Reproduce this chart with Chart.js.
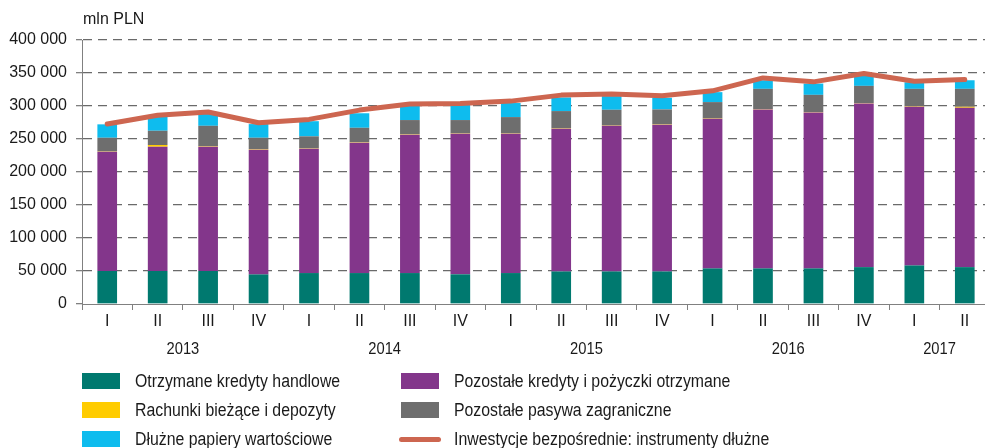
<!DOCTYPE html>
<html>
<head>
<meta charset="utf-8">
<script src="https://cdn.jsdelivr.net/npm/chart.js@4"></script>
<style>
  body { margin: 0; overflow: hidden; background: #fff; }
  #wrap { position: relative; width: 990px; height: 448px; }
  .unit { position: absolute; left: 83px; top: 10px; font: 16px "Liberation Sans", Arial, sans-serif; color: #1a1a1a; }
  .leg { position: absolute; font: 18px "Liberation Sans", Arial, sans-serif; color: #1a1a1a; white-space: nowrap; line-height: 20px; transform: scaleX(0.88); transform-origin: 0 50%; }
  .box { position: absolute; width: 38px; height: 16px; }
  .ln { position: absolute; width: 42px; height: 5px; border-radius: 3px; }
</style>
</head>
<body>
<div id="wrap">
  <canvas id="wykres" width="990" height="448"></canvas>
  <div class="unit">mln PLN</div>
  <div id="legenda"></div>
</div>
<script>
// dane (mln PLN)
const kwartaly = ['I','II','III','IV','I','II','III','IV','I','II','III','IV','I','II','III','IV','I','II'];
const lata = ['2013','2013','2013','2013','2014','2014','2014','2014','2015','2015','2015','2015','2016','2016','2016','2016','2017','2017'];
const yTicki = [0, 50000, 100000, 150000, 200000, 250000, 300000, 350000, 400000];

const kredytyHandlowe = [50000, 50000, 50000, 44800, 46900, 46900, 46900, 45000, 46900, 49300, 49300, 49300, 53900, 53900, 53900, 55900, 58400, 55900];
const pozostaleKredyty = [180700, 188300, 188300, 189000, 188400, 197500, 209600, 213000, 211100, 216200, 220700, 222300, 226700, 240900, 236400, 248000, 240400, 241400];
const rachunki = [500, 2600, 700, 700, 500, 600, 600, 500, 500, 600, 500, 600, 600, 600, 600, 600, 700, 1500];
const pozostalePasywa = [20700, 21600, 31000, 17400, 18200, 22000, 21600, 20200, 24700, 26200, 23800, 22600, 24700, 30600, 26000, 26000, 26500, 27200];
const dluznePapiery = [20300, 21500, 18000, 20700, 23000, 22000, 21300, 22800, 21300, 20700, 20700, 17700, 15100, 13000, 17100, 17000, 10000, 13000];
const instrumentyDluzne = [272600, 286000, 291000, 274600, 279700, 293800, 302900, 303900, 307400, 316500, 318000, 315500, 323000, 342600, 336600, 349300, 337600, 340200];

const kolory = {
  teal: '#00796F',
  fiolet: '#83368B',
  zolty: '#FFCC00',
  szary: '#6E6E6E',
  niebieski: '#0EBCEE',
  linia: '#CD6650'
};

const czcionka = '"Liberation Sans", Arial, sans-serif';

// legenda w HTML (dwie kolumny)
const pozycje = [
  { t: 'Otrzymane kredyty handlowe', c: kolory.teal, x: 82, y: 381 },
  { t: 'Rachunki bieżące i depozyty', c: kolory.zolty, x: 82, y: 410 },
  { t: 'Dłużne papiery wartościowe', c: kolory.niebieski, x: 82, y: 439 },
  { t: 'Pozostałe kredyty i pożyczki otrzymane', c: kolory.fiolet, x: 401, y: 381 },
  { t: 'Pozostałe pasywa zagraniczne', c: kolory.szary, x: 401, y: 410 },
  { t: 'Inwestycje bezpośrednie: instrumenty dłużne', c: kolory.linia, x: 401, y: 439, linia: true }
];
const leg = document.getElementById('legenda');
pozycje.forEach(p => {
  const ikona = document.createElement('div');
  if (p.linia) {
    ikona.className = 'ln';
    ikona.style.left = (p.x - 2) + 'px';
    ikona.style.top = (p.y - 2.5) + 'px';
  } else {
    ikona.className = 'box';
    ikona.style.left = p.x + 'px';
    ikona.style.top = (p.y - 8) + 'px';
  }
  ikona.style.background = p.c;
  leg.appendChild(ikona);
  const txt = document.createElement('div');
  txt.className = 'leg';
  txt.innerText = p.t;
  txt.style.left = (p.x + 53) + 'px';
  txt.style.top = (p.y - 10) + 'px';
  leg.appendChild(txt);
});

// podpisy lat pod kwartałami
const podpisyLat = {
  id: 'podpisyLat',
  afterDraw(chart) {
    const x = chart.scales.x;
    const ctx = chart.ctx;
    const grupy = {};
    lata.forEach((rok, i) => {
      (grupy[rok] = grupy[rok] || []).push(x.getPixelForValue(i));
    });
    ctx.save();
    ctx.font = '16px ' + czcionka;
    ctx.fillStyle = '#1a1a1a';
    ctx.textAlign = 'center';
    ctx.textBaseline = 'middle';
    Object.keys(grupy).forEach(rok => {
      const px = grupy[rok];
      const srodek = px.reduce((a, b) => a + b, 0) / px.length;
      ctx.save();
      ctx.translate(srodek, 350);
      ctx.scale(0.92, 1);
      ctx.fillText(rok, 0, 0);
      ctx.restore();
    });
    ctx.restore();
  }
};

function slupek(label, dane, kolor) {
  return {
    type: 'bar',
    label: label,
    data: dane,
    backgroundColor: kolor,
    stack: 'pasywa',
    order: 1,
    categoryPercentage: 1,
    barPercentage: 0.39
  };
}

new Chart(document.getElementById('wykres'), {
  data: {
    labels: kwartaly,
    datasets: [
      slupek('Otrzymane kredyty handlowe', kredytyHandlowe, kolory.teal),
      slupek('Pozostałe kredyty i pożyczki otrzymane', pozostaleKredyty, kolory.fiolet),
      slupek('Rachunki bieżące i depozyty', rachunki, kolory.zolty),
      slupek('Pozostałe pasywa zagraniczne', pozostalePasywa, kolory.szary),
      slupek('Dłużne papiery wartościowe', dluznePapiery, kolory.niebieski),
      {
        type: 'line',
        label: 'Inwestycje bezpośrednie: instrumenty dłużne',
        data: instrumentyDluzne,
        borderColor: kolory.linia,
        backgroundColor: kolory.linia,
        borderWidth: 5,
        borderCapStyle: 'round',
        borderJoinStyle: 'round',
        pointRadius: 0,
        tension: 0,
        stack: 'linia',
        order: 0
      }
    ]
  },
  options: {
    responsive: false,
    animation: false,
    layout: { padding: { top: 40, left: 0, right: 0, bottom: 0 } },
    plugins: {
      legend: { display: false },
      tooltip: { enabled: false }
    },
    scales: {
      x: {
        stacked: true,
        afterFit: s => { s.height = 144; },
        grid: {
          display: true,
          drawOnChartArea: false,
          offset: true,
          tickLength: 6,
          color: '#808080'
        },
        border: { color: '#808080', width: 1 },
        ticks: {
          padding: 2,
          color: '#1a1a1a',
          font: { family: czcionka, size: 16 },
          maxRotation: 0,
          autoSkip: false
        }
      },
      y: {
        stacked: true,
        min: 0,
        max: 400000,
        afterFit: s => { s.width = 82; },
        afterBuildTicks: s => { s.ticks = yTicki.map(v => ({ value: v })); },
        grid: {
          color: ctx => ctx.tick && ctx.tick.value === 0 ? 'rgba(0,0,0,0)' : '#6a6a6a',
          tickColor: '#808080',
          tickLength: 6,
          lineWidth: 1.3
        },
        border: { color: '#808080', width: 1, dash: [9, 6] },
        ticks: {
          padding: 9,
          color: '#1a1a1a',
          font: { family: czcionka, size: 16 },
          callback: v => String(v).replace(/\B(?=(\d{3})+(?!\d))/g, ' ')
        }
      }
    }
  },
  plugins: [podpisyLat]
});
</script>
</body>
</html>
